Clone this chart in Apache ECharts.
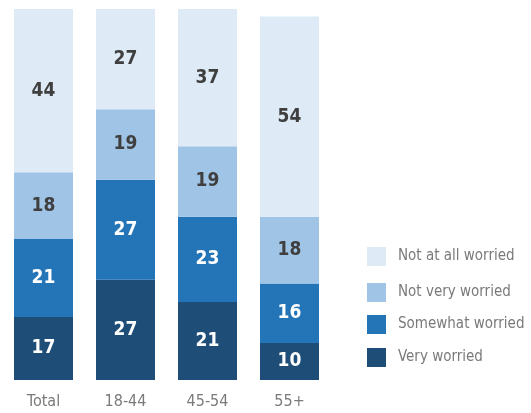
<!DOCTYPE html>
<html><head><meta charset="utf-8">
<script src="https://cdn.jsdelivr.net/npm/echarts@6/dist/echarts.min.js"></script>
<style>html,body{margin:0;padding:0;background:#fff}#c{width:531px;height:413px}</style>
</head><body><div id="c"></div>
<script>
const categories = ['Total', '18-44', '45-54', '55+'];
const veryWorried = [17, 27, 21, 10];
const somewhatWorried = [21, 27, 23, 16];
const notVeryWorried = [18, 19, 19, 18];
const notAtAllWorried = [44, 27, 37, 54];
const seriesNames = ['Very worried', 'Somewhat worried', 'Not very worried', 'Not at all worried'];

const FONT = '"DejaVu Sans Condensed", "Liberation Sans Narrow", sans-serif';
const colors = ['#1e4d78', '#2474b8', '#a0c4e6', '#deebf7'];
const labelColors = ['#ffffff', '#ffffff', '#3f3f3f', '#3f3f3f'];
const dataSets = [veryWorried, somewhatWorried, notVeryWorried, notAtAllWorried];

const chart = echarts.init(document.getElementById('c'), null, {renderer: 'canvas'});
const legendTops = [348, 315, 283, 247];
chart.setOption({
  animation: false,
  grid: {left: 2.5, width: 328, top: 9, bottom: 33},
  xAxis: {
    type: 'category', data: categories,
    axisLine: {show: false}, axisTick: {show: false},
    axisLabel: {color: '#7a7a7a', fontFamily: FONT, fontSize: 16, margin: 14}
  },
  yAxis: {type: 'value', min: 0, max: 100, show: false, splitLine: {show: false}},
  legend: legendTops.map((t, i) => ({
    data: [seriesNames[i]], left: 367, top: t, orient: 'vertical',
    itemWidth: 19, itemHeight: 19, icon: 'rect', itemGap: 0, padding: 0,
    textStyle: {color: '#7a7a7a', fontFamily: FONT, fontSize: 15, padding: [0, 0, 0, 7]}
  })),
  series: dataSets.map((d, i) => ({
    name: seriesNames[i], type: 'bar', stack: 'a', barWidth: 59, data: d,
    itemStyle: {color: colors[i]},
    label: {show: true, position: 'inside', color: labelColors[i], fontFamily: FONT,
      fontWeight: 'bold', fontSize: 19}
  }))
});
</script></body></html>
